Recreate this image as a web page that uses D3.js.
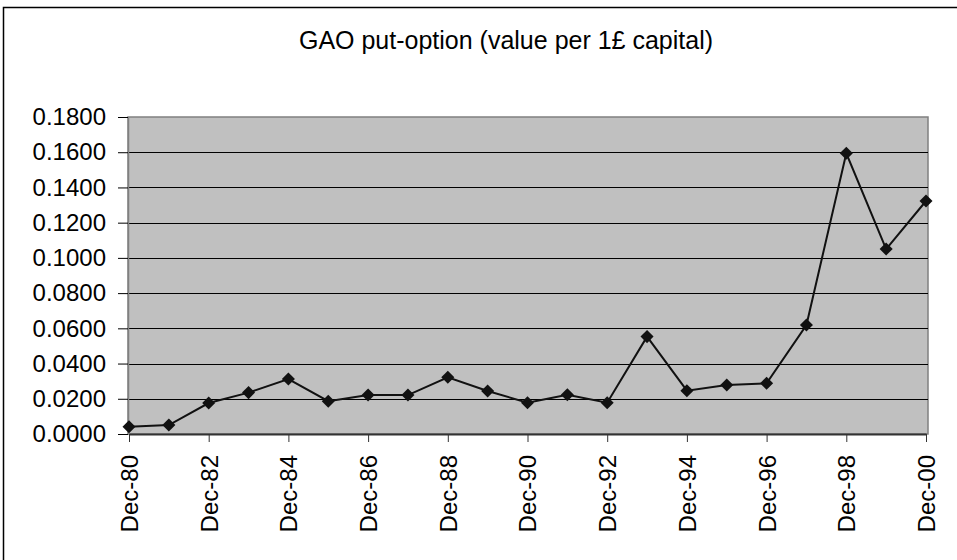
<!DOCTYPE html>
<html>
<head>
<meta charset="utf-8">
<script src="https://cdn.jsdelivr.net/npm/d3@7"></script>
<style>
  body { margin: 0; background: #fff; }
  text { font-family: "Liberation Sans", Arial, sans-serif; fill: #000; }
</style>
</head>
<body>
<div id="chart"></div>
<script>
// year-end dates (Dec-80 .. Dec-00) and option values
var years = ["Dec-80", "Dec-81", "Dec-82", "Dec-83", "Dec-84", "Dec-85", "Dec-86",
             "Dec-87", "Dec-88", "Dec-89", "Dec-90", "Dec-91", "Dec-92", "Dec-93",
             "Dec-94", "Dec-95", "Dec-96", "Dec-97", "Dec-98", "Dec-99", "Dec-00"];
var values = [0.0041, 0.0051, 0.0176, 0.0235, 0.0312, 0.0186, 0.0221,
              0.0221, 0.0322, 0.0244, 0.0178, 0.0223, 0.0178, 0.0553,
              0.0246, 0.0278, 0.0288, 0.0619, 0.1594, 0.1050, 0.1323];
var yTicks = [0, 0.02, 0.04, 0.06, 0.08, 0.10, 0.12, 0.14, 0.16, 0.18];
var title = "GAO put-option (value per 1£ capital)";

var width = 957, height = 560;
var plot = {left: 128, right: 928, top: 117, bottom: 434};

var svg = d3.select("#chart").append("svg")
    .attr("width", width)
    .attr("height", height);

// chart frame (right / bottom edges fall outside the picture)
svg.append("rect")
    .attr("x", 3.5).attr("y", 7.5)
    .attr("width", width + 10).attr("height", height + 10)
    .attr("fill", "#fff")
    .attr("stroke", "#000")
    .attr("stroke-width", 1.5);

svg.append("text")
    .attr("x", 506)
    .attr("y", 49)
    .attr("text-anchor", "middle")
    .style("font-size", "25px")
    .text(title);

var x = d3.scalePoint()
    .domain(years)
    .range([plot.left + 1, plot.right - 2]);
var y = d3.scaleLinear()
    .domain([0, 0.18])
    .range([plot.bottom, plot.top]);

// grey plot area
svg.append("rect")
    .attr("x", plot.left).attr("y", plot.top)
    .attr("width", plot.right - plot.left)
    .attr("height", plot.bottom - plot.top)
    .attr("fill", "#c0c0c0")
    .attr("stroke", "#808080")
    .attr("stroke-width", 1.5);

// gridlines
svg.append("g")
    .selectAll("line")
    .data(yTicks.slice(1, -1))
    .enter()
    .append("line")
    .attr("x1", plot.left).attr("x2", plot.right)
    .attr("y1", function(d) { return Math.round(y(d)) + 0.5; })
    .attr("y2", function(d) { return Math.round(y(d)) + 0.5; })
    .attr("stroke", "#000")
    .attr("stroke-width", 1);

// y axis
var yAxis = svg.append("g")
    .attr("transform", "translate(" + plot.left + ",0)")
    .call(d3.axisLeft(y).tickValues(yTicks).tickFormat(d3.format(".4f"))
        .tickSize(10).tickSizeOuter(0).tickPadding(12));
yAxis.select(".domain").attr("stroke", "#808080").attr("stroke-width", 1.5);
yAxis.selectAll(".tick line").attr("stroke", "#000");
yAxis.selectAll("text")
    .attr("font-family", null)
    .style("font-size", "24px");

// x axis, labelled every second year
var xAxis = svg.append("g")
    .attr("transform", "translate(0," + plot.bottom + ")")
    .call(d3.axisBottom(x)
        .tickValues(years.filter(function(d, i) { return i % 2 == 0; }))
        .tickSize(8).tickSizeOuter(0).tickPadding(0));
xAxis.select(".domain").attr("stroke", "#333").attr("stroke-width", 2);
xAxis.selectAll(".tick line").attr("stroke", "#333");
xAxis.selectAll("text")
    .attr("font-family", null)
    .style("font-size", "24px")
    .attr("text-anchor", "end")
    .attr("dy", "0.35em")
    .attr("transform", "translate(0,21) rotate(-90)")
    .attr("x", 0).attr("y", 0);

// series line
var line = d3.line()
    .x(function(d, i) { return x(years[i]); })
    .y(function(d) { return y(d); });
svg.append("path")
    .datum(values)
    .attr("d", line)
    .attr("fill", "none")
    .attr("stroke", "#111")
    .attr("stroke-width", 2);

// diamond markers
svg.selectAll("path.marker")
    .data(values)
    .enter()
    .append("path")
    .attr("class", "marker")
    .attr("d", d3.symbol().type(d3.symbolSquare).size(85))
    .attr("transform", function(d, i) {
        return "translate(" + x(years[i]) + "," + y(d) + ") rotate(45)";
    })
    .attr("fill", "#111");
</script>
</body>
</html>
